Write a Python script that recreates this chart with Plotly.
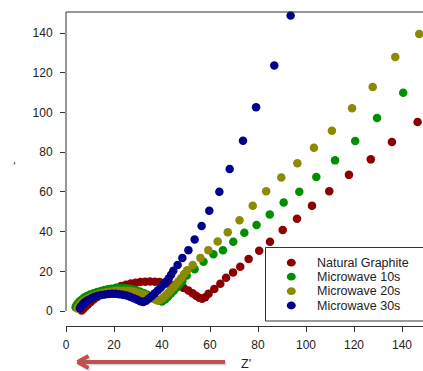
import plotly.graph_objects as go

# ---------------- data ----------------
series_names = ["Natural Graphite", "Microwave 10s", "Microwave 20s", "Microwave 30s"]
series_colors = ["#8b0000", "#008f00", "#8b8b00", "#00008b"]

ng_x = [6.5, 7.3, 8.2, 9.2, 10.3, 11.5, 13, 15, 17, 19, 21, 23, 25, 27, 29, 31, 33, 35, 37, 39,
        41, 43, 45, 47, 49, 51, 52.7, 54.2, 55.5, 56.7, 58, 59.4, 61.8, 64.3, 66.7, 69.6, 72.6,
        76.1, 80.5, 85, 90.3, 96.25, 102.5, 109.7, 117.9, 127, 135.8, 146.5]
ng_y = [0.3, 1.2, 2.3, 3.4, 4.6, 5.8, 7.1, 8.5, 9.8, 10.9, 11.8, 12.6, 13.3, 13.9, 14.3, 14.6, 14.8,
        14.9, 14.8, 14.6, 14.2, 13.7, 13.1, 12.5, 11.7, 10.4, 9.0, 7.7, 6.7, 6.2, 7.0, 8.8, 11.1,
        13.8, 16.8, 19.5, 22.3, 26.2, 30.4, 34.9, 40.8, 46.5, 53.0, 60.4, 68.6, 76.4, 85.2, 95.2]

m10_x = [4.0, 4.4, 5.0, 5.7, 6.6, 7.6, 8.7, 10, 11.5, 13, 14.5, 16, 17.5, 19, 20.5, 22, 23.5, 25,
         26.5, 28, 29.5, 31, 32.5, 34, 35.5, 37, 38.5, 40.0, 41.3, 42.5, 43.7, 44.9, 46.1, 47.3,
         48.5, 50.3, 53.6, 57.3, 61.4, 65.4, 69.7, 74.3, 79.4, 84.9, 90.7, 97.2, 104.3, 112.1,
         120.5, 129.6, 140.5]
m10_y = [2.0, 3.0, 4.0, 5.0, 5.9, 6.8, 7.6, 8.3, 9.0, 9.6, 10.1, 10.6, 11.0, 11.3, 11.5, 11.6,
         11.6, 11.5, 11.3, 10.9, 10.4, 9.8, 9.0, 8.2, 7.3, 6.4, 5.5, 4.8, 5.8, 7.2, 8.7, 10.3, 11.9,
         13.5, 15.1, 17.9, 21.1, 24.8, 28.6, 30.7, 34.9, 39.4, 43.4, 48.7, 54.7, 60.1, 67.5, 75.9,
         85.6, 97.2, 109.9]

m20_x = [4.8, 5.2, 5.8, 6.5, 7.4, 8.4, 9.5, 10.8, 12.2, 13.6, 15.1, 16.6, 18.1, 19.6, 21.1, 22.6,
         24.1, 25.6, 27.1, 28.6, 30.1, 31.6, 33.1, 34.5, 35.9, 37.1, 38.1, 39.2, 40.3, 41.4, 42.5,
         43.6, 44.7, 45.8, 46.9, 48.0, 49.2, 50.5, 52.8, 56.0, 59.3, 63.2, 67.4, 72.3, 77.8, 83.4,
         89.7, 96.4, 103.3, 110.8, 119.2, 127.8, 137.2, 147.2]
m20_y = [1.3, 2.3, 3.3, 4.3, 5.2, 6.0, 6.7, 7.4, 8.0, 8.6, 9.1, 9.5, 9.8, 10.0, 10.2, 10.3, 10.3,
         10.2, 10.0, 9.7, 9.3, 8.7, 8.0, 7.3, 6.5, 5.8, 5.3, 5.6, 6.6, 7.8, 9.1, 10.5, 11.9, 13.4,
         15.0, 16.7, 18.7, 20.6, 23.2, 26.8, 30.7, 35.1, 39.7, 45.8, 53.0, 60.3, 67.3, 74.4, 82.2,
         90.8, 102.1, 112.8, 127.9, 139.5]

m30_x = [5.8, 6.3, 7.0, 7.8, 8.7, 9.7, 10.8, 12.0, 13.3, 14.7, 16.2, 17.7, 19.2, 20.7, 22.2, 23.7,
         25.2, 26.7, 28.2, 29.7, 31.0, 32.2, 33.4, 34.6, 35.8, 37.0, 38.2, 39.4, 40.6, 41.7, 42.8,
         43.8, 44.7, 46.5, 48.5, 51.0, 53.6, 56.5, 59.7, 63.9, 68.2, 73.75, 79.2, 86.8, 93.6]
m30_y = [1.5, 2.5, 3.5, 4.4, 5.2, 5.9, 6.6, 7.2, 7.7, 8.1, 8.4, 8.6, 8.7, 8.7, 8.5, 8.2, 7.8, 7.2,
         6.5, 5.7, 5.0, 4.6, 5.2, 6.3, 7.6, 9.0, 10.4, 11.8, 13.3, 14.8, 16.4, 18.3, 20.3, 23.2,
         26.8, 30.7, 36.1, 42.8, 50.5, 60.1, 71.5, 85.8, 102.7, 123.7, 148.8]

x_ticks = [0, 20, 40, 60, 80, 100, 120, 140]
y_ticks = [0, 20, 40, 60, 80, 100, 120, 140]
x_title = "Z'"
y_title = "-"

# ---------------- layout helpers ----------------
W, H = 423, 371
PLOT_L, PLOT_T, PLOT_B = 66, 12, 326          # px of plot area edges
ML, MT, MB = PLOT_L, PLOT_T, (H - PLOT_B)
PW, PH = W - ML, H - MT - MB


def px(p):
    return (p - PLOT_L) / PW


def py(p):
    return (PLOT_B - p) / PH


xs = [ng_x, m10_x, m20_x, m30_x]
ys = [ng_y, m10_y, m20_y, m30_y]

fig = go.Figure()
for name, col, x, y in zip(series_names, series_colors, xs, ys):
    fig.add_trace(go.Scatter(x=x, y=y, mode="markers", name=name, cliponaxis=False,
                             marker=dict(color=col, size=8.5, line=dict(width=0)),
                             showlegend=False))

FONT = "Liberation Sans, Arial, sans-serif"
axis_font = dict(family=FONT, size=12, color="#222")
y_top = -7.5 + PH / 1.986

fig.update_layout(
    width=W, height=H,
    margin=dict(l=ML, r=0, t=MT, b=MB, autoexpand=False),
    paper_bgcolor="white", plot_bgcolor="white",
    font=axis_font,
    xaxis=dict(range=[0, PW / 2.4], tickvals=x_ticks, ticks="outside", ticklen=5,
               tickcolor="#333", showline=True, linecolor="#333", linewidth=1,
               showgrid=False, zeroline=False, tickfont=axis_font, ticklabelstandoff=3),
    yaxis=dict(range=[-7.5, y_top], tickvals=y_ticks, ticks="outside", ticklen=5,
               tickcolor="#333", showline=False, showgrid=False, zeroline=False,
               tickfont=axis_font, ticklabelstandoff=5),
)

shapes = []
shapes.append(dict(type="line", xref="paper", yref="paper", x0=0, x1=1, y0=1, y1=1,
                   line=dict(color="#333", width=1)))
shapes.append(dict(type="line", xref="paper", yref="y", x0=0, x1=0, y0=0, y1=y_top,
                   line=dict(color="#333", width=1)))

# legend box (its right side runs past the figure edge, as in the reference)
shapes.append(dict(type="rect", xref="paper", yref="paper", x0=px(265.5), x1=px(440),
                   y0=py(321), y1=py(247.5), line=dict(color="#333", width=1),
                   fillcolor="white", layer="above"))
rows = [262.7, 276.7, 291.2, 305.5]
annotations = []
for name, col, r in zip(series_names, series_colors, rows):
    shapes.append(dict(type="circle", xref="paper", yref="paper",
                       x0=px(286.8), x1=px(295.8), y0=py(r + 3.9), y1=py(r - 3.9),
                       fillcolor=col, line=dict(width=0), layer="above"))
    annotations.append(dict(xref="paper", yref="paper", x=px(314.5), y=py(r), xanchor="left",
                            yanchor="middle", text=name, showarrow=False,
                            font=dict(family=FONT, size=12.5, color="#222")))

# arrow (shadow + arrow)
for off, colr in [(1.5, "rgba(0,0,0,0.15)"), (0, "#c0504d")]:
    shapes.append(dict(type="line", xref="paper", yref="paper", x0=px(80 + off), x1=px(225 + off),
                       y0=py(362 + off), y1=py(362 + off), line=dict(color=colr, width=4)))
    shapes.append(dict(type="line", xref="paper", yref="paper", x0=px(77.5 + off), x1=px(88.5 + off),
                       y0=py(362 + off), y1=py(356 + off), line=dict(color=colr, width=4)))
    shapes.append(dict(type="line", xref="paper", yref="paper", x0=px(77.5 + off), x1=px(88.5 + off),
                       y0=py(362 + off), y1=py(368 + off), line=dict(color=colr, width=4)))

annotations.append(dict(xref="paper", yref="paper", x=px(239), y=py(354.5), xanchor="left",
                        yanchor="top", text=x_title, showarrow=False,
                        font=dict(family=FONT, size=12.5, color="#222")))
annotations.append(dict(xref="paper", yref="paper", x=px(13), y=py(163), xanchor="center",
                        yanchor="middle", text=y_title, textangle=-90, showarrow=False,
                        font=dict(family=FONT, size=11, color="#222")))

fig.update_layout(shapes=shapes, annotations=annotations)
fig.write_html("out.html", config={"displayModeBar": False},
               post_script="document.body.style.margin='0';document.body.style.overflow='hidden';")
